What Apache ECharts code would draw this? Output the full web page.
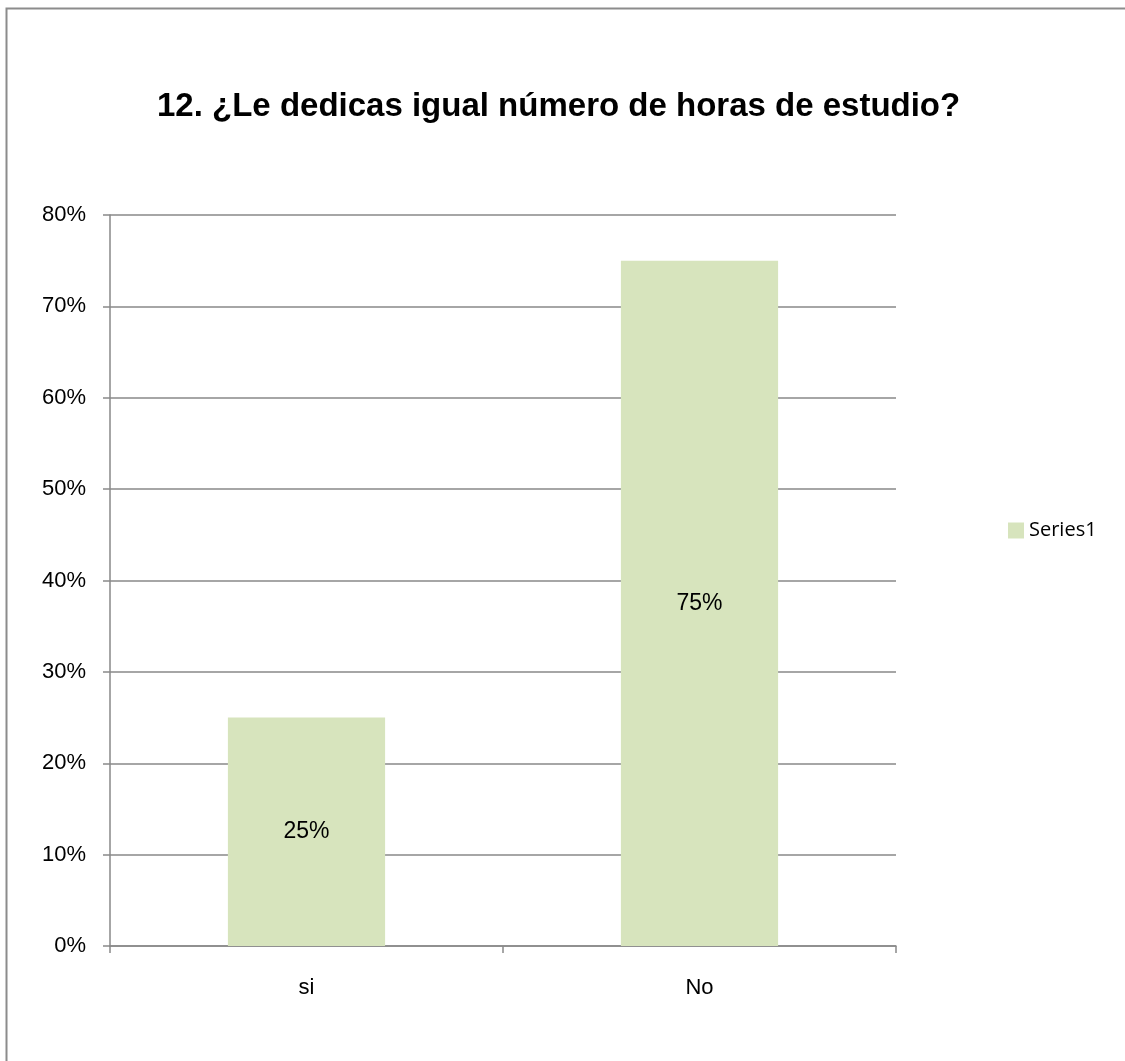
<!DOCTYPE html>
<html>
<head>
<meta charset="utf-8">
<script src="https://cdn.jsdelivr.net/npm/echarts@6/dist/echarts.min.js"></script>
<style>html,body{margin:0;padding:0;background:#fff;}#c{width:1125px;height:1061px;}</style>
</head>
<body>
<div id="c"></div>
<script>
const categories = ['si', 'No'];
const seriesName = 'Series1';
const values = [0.25, 0.75];
const yTicks = [0, 0.1, 0.2, 0.3, 0.4, 0.5, 0.6, 0.7, 0.8];
const titleText = '12. ¿Le dedicas igual número de horas de estudio?';

const chart = echarts.init(document.getElementById('c'), null, {renderer: 'canvas'});
const axisColor = '#898989';
chart.setOption({
  animation: false,
  backgroundColor: '#fff',
  graphic: [{
    type: 'rect',
    shape: {x: 6.5, y: 8.5, width: 1300, height: 1300},
    style: {fill: 'none', stroke: '#8c8c8c', lineWidth: 2},
    silent: true
  }, {
    type: 'text',
    x: 157,
    y: 107,
    silent: true,
    style: {
      text: titleText,
      align: 'left',
      verticalAlign: 'middle',
      fontFamily: '"Liberation Sans", Arial',
      fontWeight: 'bold',
      fontSize: 33,
      fill: '#000'
    }
  }],
  legend: {
    data: [seriesName],
    orient: 'vertical',
    left: 1003,
    top: 'middle',
    itemWidth: 16,
    itemHeight: 16,
    icon: 'rect',
    textStyle: {fontFamily: '"Open Sans", "Liberation Sans", Arial', fontSize: 20, color: '#000'}
  },
  grid: {left: 110, right: 229, top: 215, bottom: 115, containLabel: false},
  xAxis: {
    type: 'category',
    data: categories,
    axisLine: {lineStyle: {color: axisColor, width: 1.5}},
    axisTick: {show: true, length: 7, lineStyle: {color: axisColor, width: 1.5}},
    axisLabel: {fontFamily: '"Liberation Sans", Arial', fontSize: 22, color: '#000', margin: 31}
  },
  yAxis: {
    type: 'value',
    min: 0,
    max: 0.8,
    interval: 0.1,
    axisLine: {show: true, lineStyle: {color: axisColor, width: 1.5}},
    axisTick: {show: true, length: 7, lineStyle: {color: axisColor, width: 1.5}},
    splitLine: {show: true, lineStyle: {color: axisColor, width: 1.5}},
    axisLabel: {
      fontFamily: '"Liberation Sans", Arial', fontSize: 22, color: '#000', margin: 24,
      formatter: v => Math.round(v * 100) + '%'
    }
  },
  series: [{
    name: seriesName,
    type: 'bar',
    data: values,
    barWidth: '40%',
    itemStyle: {color: '#D7E4BD'},
    label: {
      show: true,
      position: 'inside',
      fontFamily: '"Liberation Sans", Arial',
      fontSize: 23,
      color: '#000',
      formatter: p => Math.round(p.value * 100) + '%'
    }
  }]
});
</script>
</body>
</html>
